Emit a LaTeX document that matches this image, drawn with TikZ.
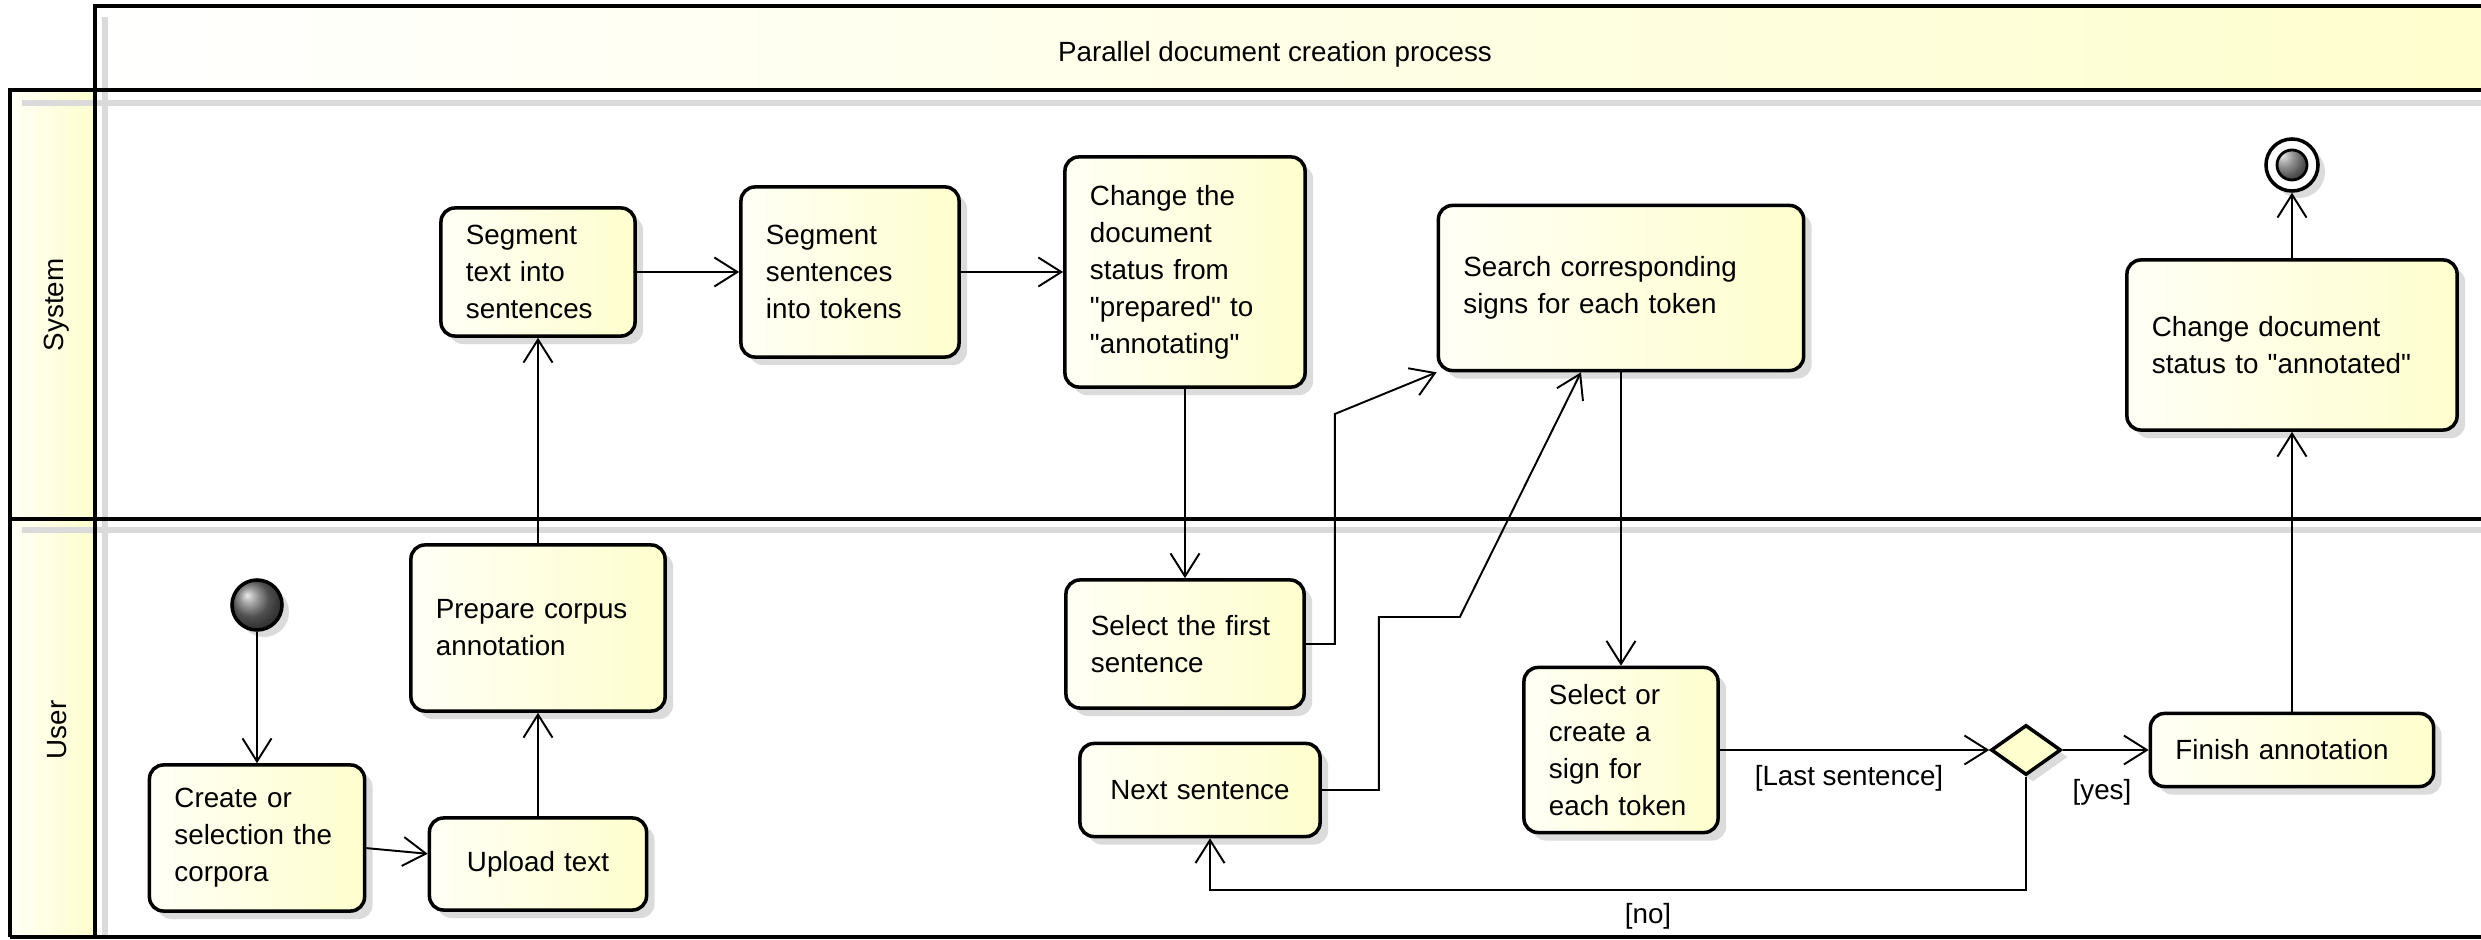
\documentclass[tikz,border=0pt]{standalone}
\usepackage{fontspec}
\setmainfont{Liberation Sans}[Ligatures=TeXOff]
\usetikzlibrary{arrows.meta,shapes.geometric,shadows}
\definecolor{boxyellow}{HTML}{FEFECE}
\definecolor{boxlight}{HTML}{FFFFF6}
\definecolor{laneshadow}{HTML}{DADADA}

\begin{document}
\begin{tikzpicture}[x=0.01cm, y=-0.01cm,
  every node/.style={font=\fontsize{7.9pt}{10.5pt}\selectfont},
  lane/.style={draw=black, line width=1.1pt},
  laneshade/.style={draw=laneshadow, line width=0.06cm},
  act/.style={rectangle, rounded corners=0.14cm, draw=black, line width=1pt,
    left color=boxlight, right color=boxyellow, inner xsep=0.25cm, align=left,
    drop shadow={shadow xshift=0.08cm, shadow yshift=-0.08cm, fill=black!14, opacity=1}},
  startnode/.style={circle, draw=black, line width=1pt, minimum size=0.50cm, inner sep=0pt,
    ball color=black!55,
    drop shadow={shadow xshift=0.07cm, shadow yshift=-0.07cm, fill=black!14, opacity=1}},
  endnode/.style={circle, draw=black, line width=1pt, minimum size=0.52cm, inner sep=0pt,
    fill=white,
    drop shadow={shadow xshift=0.07cm, shadow yshift=-0.07cm, fill=black!14, opacity=1},
    path picture={\draw[line width=0.8pt, ball color=black!55] (path picture bounding box.center) circle (0.15cm);}},
  decide/.style={diamond, draw=black, line width=1pt, fill=boxyellow, inner sep=0pt,
    minimum width=0.70cm, minimum height=0.50cm,
    drop shadow={shadow xshift=0.07cm, shadow yshift=-0.07cm, fill=black!14, opacity=1}},
  flow/.style={draw=black, line width=0.55pt, -{Straight Barb[length=0.23cm, width=0.29cm]}}]
\useasboundingbox (0,0) rectangle (2481,940);

\fill[left color=white, right color=boxyellow] (95,6) rectangle (2500,90);
\fill[left color=boxlight, right color=boxyellow] (10,90) rectangle (95,937);
\draw[laneshade] (105,17) -- (105,937);
\draw[laneshade] (22,103) -- (2500,103);
\draw[laneshade] (22,530) -- (2500,530);
\draw[lane] (95,937) -- (95,6) -- (2500,6);
\draw[lane] (10,937) -- (10,90) -- (2500,90);
\draw[lane] (10,519) -- (2500,519);
\draw[lane] (10,937) -- (2500,937);

\node (title) at (1275,54) {Parallel document creation process};
\node[rotate=90] (syslane) at (57,305) {System};
\node[rotate=90] (userlane) at (57,730) {User};

\node[startnode] (start) at (257,605) {};
\node[act, text width=1.65cm, minimum height=1.46cm] (create) at (257,838) {Create or\\selection the\\corpora};
\node[act, text width=1.67cm, minimum height=0.92cm, align=center] (upload) at (538,864) {Upload text};
\node[act, text width=2.04cm, minimum height=1.66cm] (prepare) at (538,628) {Prepare corpus\\annotation};
\node[act, text width=1.44cm, minimum height=1.28cm] (segtext) at (538,272) {Segment\\text into\\sentences};
\node[act, text width=1.68cm, minimum height=1.70cm] (segsent) at (850,272) {Segment\\sentences\\into tokens};
\node[act, text width=1.90cm, minimum height=2.30cm] (chstatus) at (1185,272) {Change the\\document\\status from\\"prepared" to\\"annotating"};
\node[act, text width=1.88cm, minimum height=1.28cm] (selfirst) at (1185,644) {Select the first\\sentence};
\node[act, text width=1.90cm, minimum height=0.93cm, align=center] (next) at (1200,790) {Next sentence};
\node[act, text width=3.15cm, minimum height=1.65cm] (search) at (1621,288) {Search corresponding\\signs for each token};
\node[act, text width=1.44cm, minimum height=1.65cm] (selcreate) at (1621,750) {Select or\\create a\\sign for\\each token};
\node[decide] (choice) at (2026,750) {};
\node[act, text width=2.33cm, minimum height=0.73cm] (finish) at (2292,750) {Finish annotation};
\node[act, text width=2.80cm, minimum height=1.70cm] (chann) at (2292,345) {Change document\\status to "annotated"};
\node[endnode] (stop) at (2292,165) {};

\node (lastlbl) at (1849,778) {[Last sentence]};
\node (yeslbl) at (2102,792) {[yes]};
\node (nolbl) at (1648,916) {[no]};

\draw[flow] (start) -- (create);
\draw[flow] (create) -- (upload);
\draw[flow] (upload) -- (prepare);
\draw[flow] (prepare) -- (segtext);
\draw[flow] (segtext) -- (segsent);
\draw[flow] (segsent) -- (chstatus);
\draw[flow] (chstatus) -- (selfirst);
\draw[flow] (selfirst.east) -- ++(29,0) -- ++(0,-230) -- (search.south west);
\draw[flow] (next.east) -- ++(57,0) -- ++(0,-173) -- ++(81,0) -- ([xshift=-0.40cm]search.south);
\draw[flow] (search) -- (selcreate);
\draw[flow] (selcreate) -- (choice);
\draw[flow] (choice) -- (finish);
\draw[flow] (choice.south) -- ++(0,113) -| ([xshift=0.10cm]next.south);
\draw[flow] (finish) -- (chann);
\draw[flow] (chann) -- (stop);
\end{tikzpicture}
\end{document}
